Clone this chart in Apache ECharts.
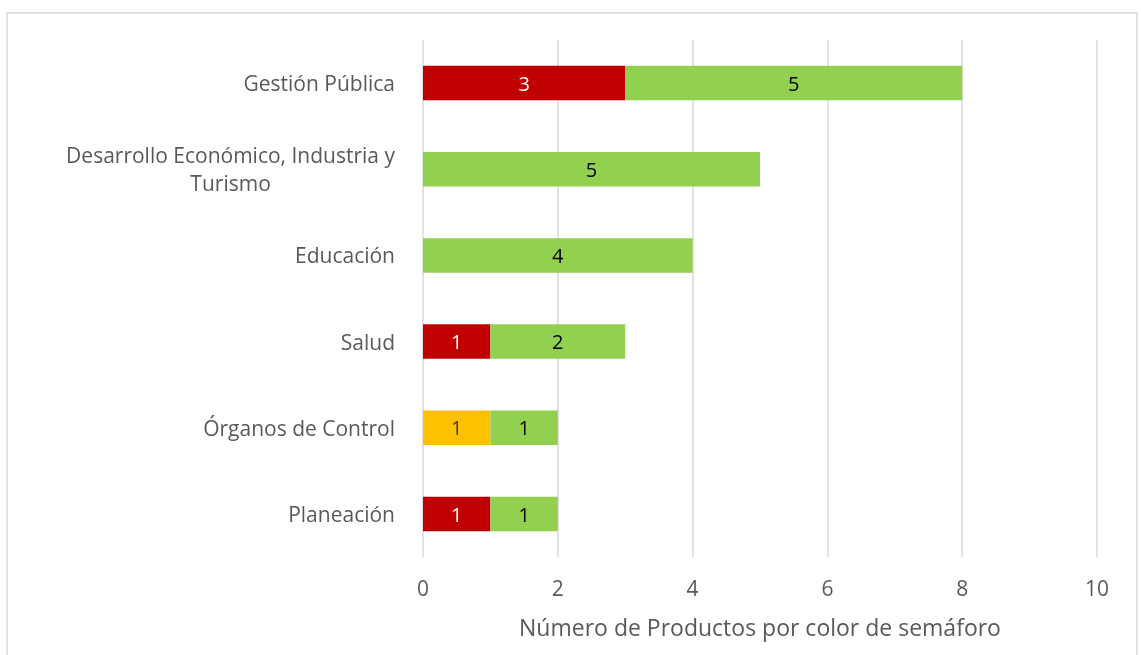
<!DOCTYPE html>
<html>
<head>
<meta charset="utf-8">
<script src="https://cdn.jsdelivr.net/npm/echarts@6/dist/echarts.min.js"></script>
<style>
html,body{margin:0;padding:0;background:#fff;}
#chart{width:1141px;height:655px;}
</style>
</head>
<body>
<div id="chart"></div>
<script>
// categories listed bottom to top (ECharts category axis order)
var categories = ['Planeación', 'Órganos de Control', 'Salud', 'Educación', 'Desarrollo Económico, Industria y\nTurismo', 'Gestión Pública'];
var redValues = [1, 0, 1, 0, 0, 3];
var yellowValues = [0, 1, 0, 0, 0, 0];
var greenValues = [1, 1, 2, 4, 5, 5];
var xTicks = [0, 2, 4, 6, 8, 10];
var axisTitle = 'Número de Productos por color de semáforo';

var FONT = 'Open Sans';
var FS = 21;

function lbl(color) {
  return {
    show: true,
    position: 'inside',
    offset: [0, 2],
    color: color,
    fontFamily: FONT,
    fontSize: 20,
    formatter: function (p) { return p.value ? String(p.value) : ''; }
  };
}
function mk(name, data, color, labelColor) {
  return {
    name: name,
    type: 'bar',
    stack: 'total',
    data: data,
    barCategoryGap: '60%',
    itemStyle: { color: color },
    label: lbl(labelColor),
    emphasis: { disabled: true }
  };
}

var chart = echarts.init(document.getElementById('chart'));
chart.setOption({
  animation: false,
  backgroundColor: '#fff',
  grid: { left: 423, right: 44, top: 40, bottom: 98, containLabel: false },
  graphic: [{
    type: 'rect',
    shape: { x: 7, y: 13, width: 1130, height: 700 },
    style: { fill: 'none', stroke: '#d9d9d9', lineWidth: 1.5 },
    silent: true
  }],
  xAxis: {
    type: 'value',
    min: xTicks[0],
    max: xTicks[xTicks.length - 1],
    interval: 2,
    axisLine: { show: false },
    axisTick: { show: false },
    splitLine: { show: true, lineStyle: { color: '#d9d9d9', width: 1.5 } },
    axisLabel: { color: '#595959', fontFamily: FONT, fontSize: FS, margin: 23 },
    name: axisTitle,
    nameLocation: 'middle',
    nameGap: 61,
    nameTextStyle: { color: '#595959', fontFamily: FONT, fontSize: 23 }
  },
  yAxis: {
    type: 'category',
    data: categories,
    axisLine: { show: false },
    axisTick: { show: false },
    axisLabel: {
      color: '#595959',
      fontFamily: FONT,
      fontSize: FS,
      margin: 28,
      lineHeight: 28,
      padding: [4, 0, 0, 0],
      formatter: function (v) {
        var lines = v.split('\n');
        if (lines.length === 1) return v;
        return lines.map(function (l) { return '{c|' + l + '}'; }).join('\n');
      },
      rich: { c: { align: 'center', color: '#595959', fontFamily: FONT, fontSize: FS, lineHeight: 28 } }
    }
  },
  series: [
    mk('Rojo', redValues, '#C00000', '#ffffff'),
    mk('Amarillo', yellowValues, '#FFC000', '#404040'),
    mk('Verde', greenValues, '#92D050', '#000000')
  ]
});
</script>
</body>
</html>
